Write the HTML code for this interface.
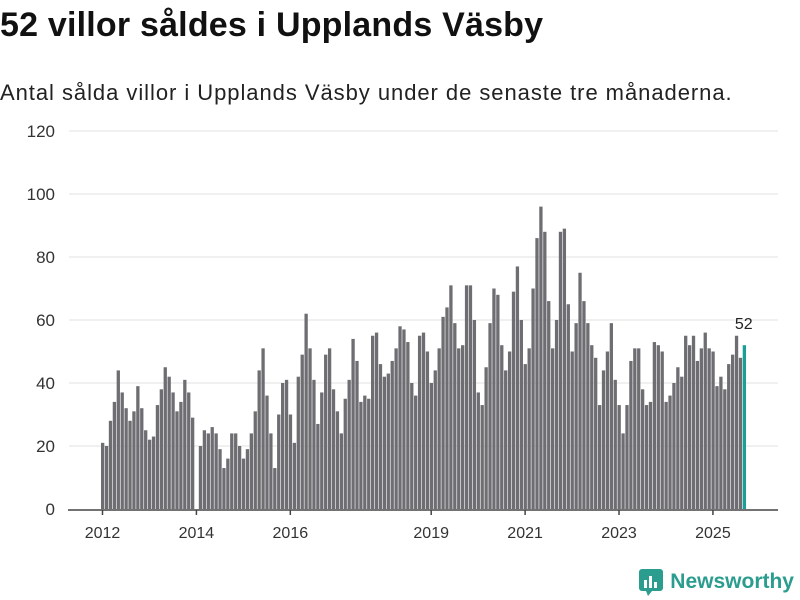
<!DOCTYPE html>
<html><head><meta charset="utf-8"><style>
body{margin:0;width:800px;height:600px;background:#fff;font-family:"Liberation Sans",sans-serif;overflow:hidden;position:relative}
#title{position:absolute;left:0;top:6px;font-size:34px;font-weight:bold;color:#111;letter-spacing:0.2px}
#sub{position:absolute;left:0;top:80px;font-size:22px;color:#222;letter-spacing:0.95px}
#logo{position:absolute;right:6px;top:568px;display:flex;align-items:center;gap:6px;color:#2a9d8f;font-size:21px;font-weight:bold}
</style></head><body>
<div id="title">52 villor såldes i Upplands Väsby</div>
<div id="sub">Antal sålda villor i Upplands Väsby under de senaste tre månaderna.</div>
<svg id="chart" width="800" height="600" style="position:absolute;left:0;top:0"></svg>
<div id="logo"><svg width="26" height="28"><rect x="1" y="1" width="24" height="22" rx="3" fill="#2a9d8f"/><polygon points="8,23 14,23 10,28" fill="#2a9d8f"/><rect x="6" y="12" width="3" height="8" fill="#fff"/><rect x="11" y="8" width="3" height="12" fill="#fff"/><rect x="16" y="14" width="3" height="6" fill="#fff"/></svg><span>Newsworthy</span></div>
<script>
const values=[21,20,28,34,44,37,32,28,31,39,32,25,
22,23,33,38,45,42,37,31,34,41,37,29,
0,20,25,24,26,24,19,13,16,24,24,20,
16,19,24,31,44,51,36,24,13,30,40,41,
30,21,42,49,62,51,41,27,37,49,51,38,
31,24,35,41,54,47,34,36,35,55,56,46,
42,43,47,51,58,57,53,40,36,55,56,50,
40,44,51,61,64,71,59,51,52,71,71,60,
37,33,45,59,70,68,52,44,50,69,77,60,
46,51,70,86,96,88,66,51,60,88,89,65,
50,59,75,66,59,52,48,33,44,50,59,41,
33,24,33,47,51,51,38,33,34,53,52,50,
34,36,40,45,42,55,52,55,47,51,56,51,
50,39,42,38,46,49,55,48,52];
const yTicks=[0,20,40,60,80,100,120];
const xTickYears=[2012,2014,2016,2019,2021,2023,2025];
const startYear=2012;
const NS="http://www.w3.org/2000/svg";
const svg=document.getElementById('chart');
const y=v=>509-v*(378/120);
const x=i=>101+i*3.913;
function mk(t,a){const e=document.createElementNS(NS,t);for(const k in a)e.setAttribute(k,a[k]);svg.appendChild(e);return e;}
yTicks.forEach(t=>{
  if(t>0){const g=mk('line',{x1:69,x2:778,y1:y(t),y2:y(t),stroke:'#e2e2e2','stroke-width':1});
  
  }
  const l=mk('text',{x:55,y:y(t)+6,'text-anchor':'end','font-size':17,fill:'#333','font-family':'Liberation Sans, sans-serif'});
  l.textContent=t;
  
  
});
values.forEach((v,i)=>{
  const last=i===values.length-1;
  const r=mk('rect',{x:x(i),y:y(v),width:3.3,height:509-y(v),fill:last?'#1a9e96':'#6e6d72'});
  
  
});
const li=values.length-1;
const vl=mk('text',{x:x(li)+1,y:y(values[li])-16,'text-anchor':'middle','font-size':16,fill:'#222','font-family':'Liberation Sans, sans-serif'});
vl.textContent=values[li];


const ax=mk('line',{x1:68,x2:778,y1:510,y2:510,stroke:'#444','stroke-width':1.5});


xTickYears.forEach(yr=>{
  const xi=x((yr-startYear)*12)+1.5;
  const tk=mk('line',{x1:xi,x2:xi,y1:510,y2:515,stroke:'#444','stroke-width':1.5});
  
  
  const t=mk('text',{x:xi,y:538,'text-anchor':'middle','font-size':16,fill:'#333','font-family':'Liberation Sans, sans-serif'});
  t.textContent=yr;
  
  
});
</script>
</body></html>
